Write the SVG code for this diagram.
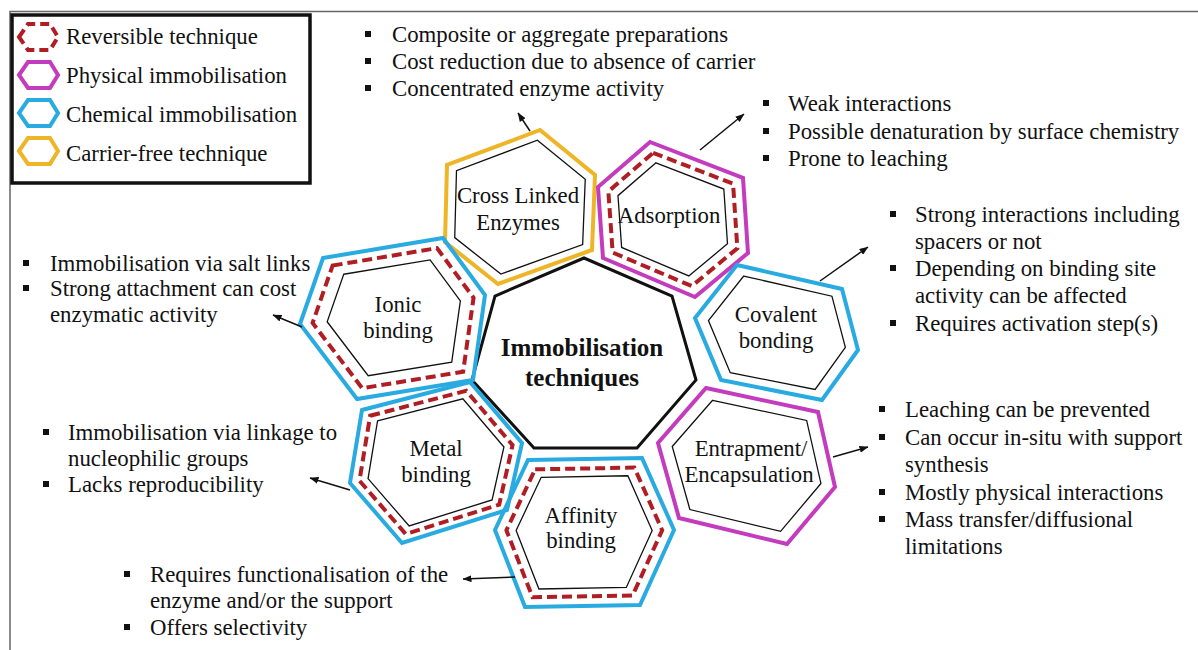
<svg xmlns="http://www.w3.org/2000/svg" width="1198" height="650" viewBox="0 0 1198 650" font-family="'Liberation Serif', 'Times New Roman', 'DejaVu Serif', serif">
<style>
text{font-family:'Liberation Serif','Times New Roman','DejaVu Serif',serif;font-size:22.8px;fill:#111}
.c{text-anchor:middle}
.b{font-weight:bold;font-size:25px}
.hx{fill:none;stroke-width:4;stroke-linejoin:miter;vector-effect:non-scaling-stroke}
.blue{stroke:#29ABE2}
.mag{stroke:#C43CBE}
.yel{stroke:#EEB526}
.dash{fill:none;stroke:#B01E24;stroke-width:4;stroke-dasharray:10 5;vector-effect:non-scaling-stroke}
.inn{fill:none;stroke:#111;stroke-width:1.3;vector-effect:non-scaling-stroke}
.bul{fill:#111}
.arr{stroke:#111;stroke-width:1.5;fill:none;marker-end:url(#ah)}
</style>
<defs>
<marker id="ah" markerWidth="9" markerHeight="7" refX="8.5" refY="3.5" orient="auto" markerUnits="userSpaceOnUse">
<path d="M0,0 L9,3.5 L0,7 z" fill="#111"/>
</marker>
<polygon id="lg" points="-19,0 -10,-13 12,-13 20,0 12,13 -10,13"/>
</defs>
<rect width="1198" height="650" fill="#fff"/>
<g id="frame" stroke="#666" stroke-width="1.5" fill="none">
<path d="M10,650 V11.5 H1198"/>
</g>

<g id="legend">
<rect x="12" y="15" width="298" height="168" fill="#fff" stroke="#111" stroke-width="3.5"/>
<use href="#lg" x="38" y="37" class="dash" style="stroke-dasharray:9 5"/>
<use href="#lg" x="38" y="75" class="hx mag"/>
<use href="#lg" x="38" y="113" class="hx blue"/>
<use href="#lg" x="38" y="151" class="hx yel"/>
<text x="66" y="44">Reversible technique</text>
<text x="66" y="83">Physical immobilisation</text>
<text x="66" y="122">Chemical immobilisation</text>
<text x="66" y="161">Carrier-free technique</text>
</g>

<g id="center">
<polygon points="584,258 672,296 696,380 637,448 534,448 472,380 495,296" fill="#fff" stroke="#111" stroke-width="3"/>
<text class="c b" x="582" y="356">Immobilisation</text>
<text class="c b" x="582" y="386">techniques</text>
</g>

<g id="node-crosslinked" transform="translate(520,208)">
<polygon class="hx yel" points="20,-78 75,-33 72,42 -22,76 -75,34 -73,-43"/>
<polygon class="inn" transform="scale(0.87)" points="20,-78 75,-33 72,42 -22,76 -75,34 -73,-43"/>
<text class="c" x="-2" y="-5">Cross Linked</text>
<text class="c" x="-2" y="22">Enzymes</text>
</g>

<g id="node-adsorption" transform="translate(672,219)">
<polygon class="hx mag" points="-22,-77 71,-41 76,34 23,78 -69,39 -74,-32"/>
<polygon class="dash" transform="scale(0.86)" points="-22,-77 71,-41 76,34 23,78 -69,39 -74,-32"/>
<polygon class="inn" transform="scale(0.73)" points="-22,-77 71,-41 76,34 23,78 -69,39 -74,-32"/>
<text class="c" x="-3" y="4">Adsorption</text>
</g>

<g id="node-covalent" transform="translate(779,334)">
<polygon class="hx blue" points="-42,-69 63,-45 79,16 43,66 -58,46 -84,-16"/>
<polygon class="inn" transform="scale(0.84)" points="-42,-69 63,-45 79,16 43,66 -58,46 -84,-16"/>
<text class="c" x="-3" y="-12">Covalent</text>
<text class="c" x="-3" y="14">bonding</text>
</g>

<g id="node-entrapment" transform="translate(747,465)">
<polygon class="hx mag" points="-41,-77 71,-53 88,22 40,79 -68,53 -89,-22"/>
<polygon class="inn" transform="scale(0.84)" points="-41,-77 71,-53 88,22 40,79 -68,53 -89,-22"/>
<text class="c" x="4" y="-9">Entrapment/</text>
<text class="c" x="2" y="17">Encapsulation</text>
</g>

<g id="node-ionic" transform="translate(397,316)">
<polygon class="hx blue" points="-74,-58 46,-78 88,-21 76,64 -40,83 -97,8"/>
<polygon class="dash" transform="scale(0.87)" points="-74,-58 46,-78 88,-21 76,64 -40,83 -97,8"/>
<polygon class="inn" transform="scale(0.72)" points="-74,-58 46,-78 88,-21 76,64 -40,83 -97,8"/>
<text class="c" x="1" y="-4">Ionic</text>
<text class="c" x="1" y="22">binding</text>
</g>

<g id="node-metal" transform="translate(436,462)">
<polygon class="hx blue" points="-74,-52 34,-80 86,-19 71,48 -34,81 -86,21"/>
<polygon class="dash" transform="scale(0.89)" points="-74,-52 34,-80 86,-19 71,48 -34,81 -86,21"/>
<polygon class="inn" transform="scale(0.79)" points="-74,-52 34,-80 86,-19 71,48 -34,81 -86,21"/>
<text class="c" x="0" y="-6">Metal</text>
<text class="c" x="0" y="20">binding</text>
</g>

<g id="node-affinity" transform="translate(583,532)">
<polygon class="hx blue" points="-55,-72 59,-74 91,-2 57,73 -58,75 -88,-2"/>
<polygon class="dash" transform="scale(0.87)" points="-55,-72 59,-74 91,-2 57,73 -58,75 -88,-2"/>
<polygon class="inn" transform="scale(0.76)" points="-55,-72 59,-74 91,-2 57,73 -58,75 -88,-2"/>
<text class="c" x="-2" y="-9">Affinity</text>
<text class="c" x="-2" y="16">binding</text>
</g>

<g id="connectors">
<line class="arr" x1="530" y1="131" x2="518" y2="113"/>
<line class="arr" x1="700" y1="150" x2="744" y2="114"/>
<line class="arr" x1="820" y1="281" x2="868" y2="247"/>
<line class="arr" x1="302" y1="327" x2="273" y2="315"/>
<line class="arr" x1="350" y1="490" x2="310" y2="478"/>
<line class="arr" x1="515" y1="577" x2="463" y2="579"/>
<line class="arr" x1="833" y1="457" x2="868" y2="447"/>
</g>

<g id="notes-crosslinked">
<rect class="bul" x="365" y="31" width="6" height="6"/>
<rect class="bul" x="365" y="58" width="6" height="6"/>
<rect class="bul" x="365" y="85" width="6" height="6"/>
<text x="392" y="42">Composite or aggregate preparations</text>
<text x="392" y="69">Cost reduction due to absence of carrier</text>
<text x="392" y="96">Concentrated enzyme activity</text>
</g>

<g id="notes-adsorption">
<rect class="bul" x="763" y="100" width="6" height="6"/>
<rect class="bul" x="763" y="128" width="6" height="6"/>
<rect class="bul" x="763" y="155" width="6" height="6"/>
<text x="788" y="111">Weak interactions</text>
<text x="788" y="139">Possible denaturation by surface chemistry</text>
<text x="788" y="166">Prone to leaching</text>
</g>

<g id="notes-covalent">
<rect class="bul" x="890" y="211" width="6" height="6"/>
<rect class="bul" x="890" y="265" width="6" height="6"/>
<rect class="bul" x="890" y="320" width="6" height="6"/>
<text x="915" y="222">Strong interactions including</text>
<text x="915" y="249">spacers or not</text>
<text x="915" y="276">Depending on binding site</text>
<text x="915" y="303">activity can be affected</text>
<text x="915" y="331">Requires activation step(s)</text>
</g>

<g id="notes-entrapment">
<rect class="bul" x="879" y="406" width="6" height="6"/>
<rect class="bul" x="879" y="434" width="6" height="6"/>
<rect class="bul" x="879" y="489" width="6" height="6"/>
<rect class="bul" x="879" y="516" width="6" height="6"/>
<text x="905" y="417">Leaching can be prevented</text>
<text x="905" y="445">Can occur in-situ with support</text>
<text x="905" y="472">synthesis</text>
<text x="905" y="500">Mostly physical interactions</text>
<text x="905" y="527">Mass transfer/diffusional</text>
<text x="905" y="554">limitations</text>
</g>

<g id="notes-ionic">
<rect class="bul" x="23" y="260" width="6" height="6"/>
<rect class="bul" x="23" y="285" width="6" height="6"/>
<text x="50" y="271">Immobilisation via salt links</text>
<text x="50" y="296">Strong attachment can cost</text>
<text x="50" y="322">enzymatic activity</text>
</g>

<g id="notes-metal">
<rect class="bul" x="43" y="429" width="6" height="6"/>
<rect class="bul" x="43" y="481" width="6" height="6"/>
<text x="68" y="440">Immobilisation via linkage to</text>
<text x="68" y="466">nucleophilic groups</text>
<text x="68" y="492">Lacks reproducibility</text>
</g>

<g id="notes-affinity">
<rect class="bul" x="124" y="571" width="6" height="6"/>
<rect class="bul" x="124" y="624" width="6" height="6"/>
<text x="150" y="582">Requires functionalisation of the</text>
<text x="150" y="608">enzyme and/or the support</text>
<text x="150" y="635">Offers selectivity</text>
</g>
</svg>
